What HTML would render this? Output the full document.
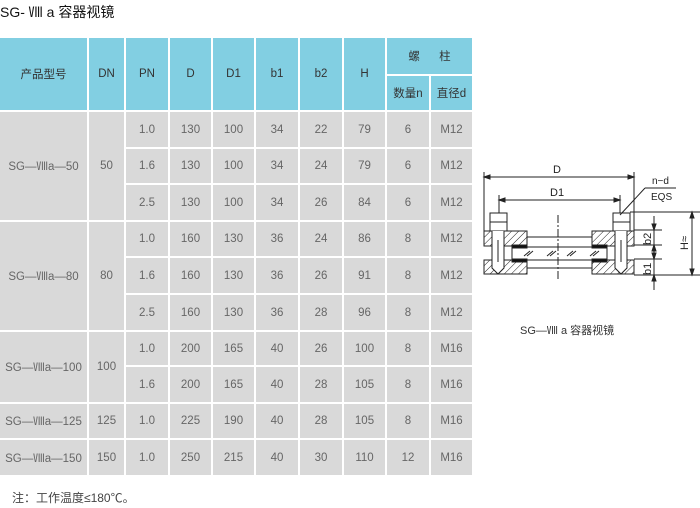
<!DOCTYPE html>
<html><head><meta charset="utf-8">
<style>
body{margin:0;width:700px;height:508px;background:#fff;position:relative;overflow:hidden;font-family:"Liberation Sans","Noto Sans CJK SC",sans-serif;}
.title{position:absolute;left:0;top:2px;font-size:14px;color:#111;}
table{position:absolute;left:0;top:38px;border-collapse:collapse;table-layout:fixed;width:473px;}
td{border:2px solid #fff;text-align:center;font-size:11.5px;color:#666;background:#d9d9d9;padding:0;}
tr.h td{background:#82cfe2;color:#333;}
table tr:first-child td{border-top:none}
td:first-child{border-left:none}
.note{position:absolute;left:12px;top:489px;font-size:12px;color:#444;}
svg{position:absolute;left:0;top:0;}
</style></head><body>
<div class="title">SG- Ⅷ a 容器视镜</div>
<table>
<colgroup><col style="width:88px"><col style="width:37px"><col style="width:44px"><col style="width:43px"><col style="width:43px"><col style="width:44px"><col style="width:44px"><col style="width:43px"><col style="width:44px"><col style="width:43px"></colgroup>
<tr class="h" style="height:37px"><td rowspan="2">产品型号</td><td rowspan="2">DN</td><td rowspan="2">PN</td><td rowspan="2">D</td><td rowspan="2">D1</td><td rowspan="2">b1</td><td rowspan="2">b2</td><td rowspan="2">H</td><td colspan="2">螺&nbsp;&nbsp;&nbsp;&nbsp;&nbsp;&nbsp;柱</td></tr>
<tr class="h" style="height:36px"><td>数量n</td><td>直径d</td></tr>
<tr style="height:37px"><td rowspan="3">SG—Ⅷa—50</td><td rowspan="3">50</td><td>1.0</td><td>130</td><td>100</td><td>34</td><td>22</td><td>79</td><td>6</td><td>M12</td></tr>
<tr style="height:36px"><td>1.6</td><td>130</td><td>100</td><td>34</td><td>24</td><td>79</td><td>6</td><td>M12</td></tr>
<tr style="height:37px"><td>2.5</td><td>130</td><td>100</td><td>34</td><td>26</td><td>84</td><td>6</td><td>M12</td></tr>
<tr style="height:36px"><td rowspan="3">SG—Ⅷa—80</td><td rowspan="3">80</td><td>1.0</td><td>160</td><td>130</td><td>36</td><td>24</td><td>86</td><td>8</td><td>M12</td></tr>
<tr style="height:37px"><td>1.6</td><td>160</td><td>130</td><td>36</td><td>26</td><td>91</td><td>8</td><td>M12</td></tr>
<tr style="height:37px"><td>2.5</td><td>160</td><td>130</td><td>36</td><td>28</td><td>96</td><td>8</td><td>M12</td></tr>
<tr style="height:35px"><td rowspan="2">SG—Ⅷa—100</td><td rowspan="2">100</td><td>1.0</td><td>200</td><td>165</td><td>40</td><td>26</td><td>100</td><td>8</td><td>M16</td></tr>
<tr style="height:37px"><td>1.6</td><td>200</td><td>165</td><td>40</td><td>28</td><td>105</td><td>8</td><td>M16</td></tr>
<tr style="height:36px"><td>SG—Ⅷa—125</td><td>125</td><td>1.0</td><td>225</td><td>190</td><td>40</td><td>28</td><td>105</td><td>8</td><td>M16</td></tr>
<tr style="height:37px"><td>SG—Ⅷa—150</td><td>150</td><td>1.0</td><td>250</td><td>215</td><td>40</td><td>30</td><td>110</td><td>12</td><td>M16</td></tr>
</table>
<div class="note">注：工作温度≤180℃。</div>
<svg width="700" height="508" viewBox="0 0 700 508">
<defs><pattern id="hat" width="5" height="5" patternUnits="userSpaceOnUse" patternTransform="rotate(45)"><line x1="0" y1="0" x2="0" y2="5" stroke="#222" stroke-width="1"/></pattern></defs>
<g stroke="#222" stroke-width="1" fill="none">
<!-- D dim -->
<line x1="484" y1="172" x2="484" y2="231"/><line x1="634" y1="172" x2="634" y2="231"/>
<line x1="484" y1="177" x2="634" y2="177"/>
<path d="M484 177 l6 -2 v4z M634 177 l-6 -2 v4z" fill="#222"/>
<!-- D1 dim -->
<line x1="499" y1="195" x2="499" y2="213"/><line x1="620" y1="195" x2="620" y2="213"/>
<line x1="499" y1="200" x2="620" y2="200"/>
<path d="M499 200 l6 -2 v4z M620 200 l-6 -2 v4z" fill="#222"/>
<!-- plates -->
<rect x="484" y="231" width="43" height="15" fill="url(#hat)"/>
<rect x="592" y="231" width="42" height="15" fill="url(#hat)"/>
<rect x="484" y="260" width="43" height="14" fill="url(#hat)"/>
<rect x="592" y="260" width="42" height="14" fill="url(#hat)"/>
<line x1="527" y1="237" x2="592" y2="237"/><line x1="527" y1="268" x2="592" y2="268"/>
<!-- glass -->
<rect x="512" y="247" width="95" height="13" fill="#fff"/>
<rect x="512" y="245" width="15" height="3" fill="#111"/><rect x="592" y="245" width="15" height="3" fill="#111"/>
<rect x="512" y="259" width="15" height="3" fill="#111"/><rect x="592" y="259" width="15" height="3" fill="#111"/>
<path d="M524 256 l6 -5 M527 256 l6 -5 M547 256 l6 -5 M550 256 l6 -5 M567 256 l6 -5 M570 256 l6 -5 M590 256 l6 -5 M593 256 l6 -5"/>
<line x1="558" y1="215" x2="558" y2="280" stroke-dasharray="8 2 2 2"/>
<!-- bolts -->
<rect x="490" y="213" width="17" height="18" fill="#fff"/><line x1="490" y1="222" x2="507" y2="222"/>
<path d="M492 231 v37 l6 6 l6 -6 v-37" fill="#fff"/><line x1="498" y1="240" x2="498" y2="262"/>
<rect x="613" y="213" width="17" height="18" fill="#fff"/><line x1="613" y1="222" x2="630" y2="222"/>
<path d="M615 231 v37 l6 6 l6 -6 v-37" fill="#fff"/><line x1="621" y1="240" x2="621" y2="262"/>
<!-- right dims -->
<line x1="630" y1="212" x2="700" y2="212"/><line x1="634" y1="275" x2="700" y2="275"/>
<line x1="634" y1="230" x2="662" y2="230"/><line x1="634" y1="245" x2="662" y2="245"/><line x1="634" y1="259" x2="662" y2="259"/>
<line x1="692" y1="212" x2="692" y2="275"/>
<path d="M692 212 l-2 6 h4z M692 275 l-2 -6 h4z" fill="#222"/>
<line x1="654" y1="216" x2="654" y2="290"/>
<path d="M654 230 l-2 -6 h4z M654 245 l-2 6 h4z M654 259 l-2 -6 h4z M654 275 l-2 6 h4z" fill="#222"/>
<!-- leader -->
<line x1="645" y1="188" x2="676" y2="188"/><line x1="645" y1="188" x2="620" y2="215"/>
</g>
<g font-family="Liberation Sans, sans-serif" fill="#222">
<text x="553" y="173" font-size="11">D</text>
<text x="550" y="196" font-size="11">D1</text>
<text x="652" y="184" font-size="10">n−d</text>
<text x="651" y="200" font-size="10">EQS</text>
<text transform="translate(651,245) rotate(-90)" font-size="11">b2</text>
<text transform="translate(651,275) rotate(-90)" font-size="11">b1</text>
<text transform="translate(688,250) rotate(-90)" font-size="11">H≈</text>
<text x="520" y="334" font-size="11" font-family="Liberation Sans, Noto Sans CJK SC, sans-serif" fill="#333">SG—Ⅷ a 容器视镜</text>
</g>
</svg>
</body></html>
